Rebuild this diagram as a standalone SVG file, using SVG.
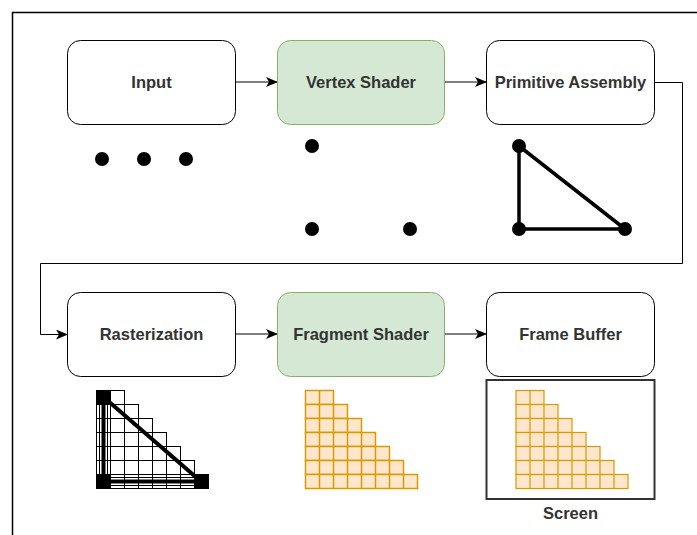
<svg xmlns="http://www.w3.org/2000/svg" xmlns:xlink="http://www.w3.org/1999/xlink" width="697" height="535" viewBox="0 0 697 535">
<style>
.node{fill:#ffffff;stroke:#000000;stroke-width:1;}
.green{fill:#d5e8d4;stroke:#82b366;stroke-width:1;}
.lbl{font-family:"Liberation Sans",Arial,sans-serif;font-weight:bold;font-size:16.5px;fill:#333333;text-anchor:middle;}
.conn{fill:none;stroke:#000000;stroke-width:1;}
.dot{fill:#000000;}
</style>
<defs>
<marker id="arr" viewBox="0 0 12 10" refX="11" refY="5" markerWidth="12" markerHeight="10" markerUnits="userSpaceOnUse" orient="auto">
<path d="M0,0 L12,5 L0,10 L3,5 z" fill="#000000"/>
</marker>
<g id="stair">
<rect x="0" y="0" width="28" height="14"/>
<rect x="0" y="14" width="42" height="14"/>
<rect x="0" y="28" width="56" height="14"/>
<rect x="0" y="42" width="70" height="14"/>
<rect x="0" y="56" width="84" height="14"/>
<rect x="0" y="70" width="98" height="14"/>
<rect x="0" y="84" width="112" height="14"/>
<path d="M14,0V98 M28,14V98 M42,28V98 M56,42V98 M70,56V98 M84,70V98 M98,84V98"/>
</g>
</defs>
<rect x="12.5" y="12.5" width="700" height="540" fill="#ffffff" stroke="#000000" stroke-width="1.5"/>
<g id="connectors">
<path class="conn" d="M235,82 H277" marker-end="url(#arr)"/>
<path class="conn" d="M445,82 H486" marker-end="url(#arr)"/>
<path class="conn" d="M654,82.5 H682.5 V263.5 H40.5 V334.5 H67" marker-end="url(#arr)"/>
<path class="conn" d="M235,334 H277" marker-end="url(#arr)"/>
<path class="conn" d="M445,334 H486" marker-end="url(#arr)"/>
</g>
<g id="input">
<rect class="node" x="67.5" y="40.5" width="168" height="84" rx="13"/>
<text class="lbl" x="151.5" y="88">Input</text>
</g>
<g id="vertex-shader">
<rect class="green" x="277.5" y="40.5" width="167" height="84" rx="13"/>
<text class="lbl" x="361" y="88">Vertex Shader</text>
</g>
<g id="primitive-assembly">
<rect class="node" x="486.5" y="40.5" width="168" height="84" rx="13"/>
<text class="lbl" x="570.5" y="88">Primitive Assembly</text>
</g>
<g id="rasterization">
<rect class="node" x="67.5" y="292.5" width="168" height="84" rx="13"/>
<text class="lbl" x="151.5" y="340">Rasterization</text>
</g>
<g id="fragment-shader">
<rect class="green" x="277.5" y="292.5" width="167" height="84" rx="13"/>
<text class="lbl" x="361" y="340">Fragment Shader</text>
</g>
<g id="frame-buffer">
<rect class="node" x="486.5" y="292.5" width="168" height="84" rx="13"/>
<text class="lbl" x="570.5" y="340">Frame Buffer</text>
</g>
<g id="input-dots">
<circle class="dot" cx="102" cy="159" r="7"/>
<circle class="dot" cx="144" cy="159" r="7"/>
<circle class="dot" cx="186" cy="159" r="7"/>
</g>
<g id="vertex-dots">
<circle class="dot" cx="312" cy="146" r="7"/>
<circle class="dot" cx="312" cy="229" r="7"/>
<circle class="dot" cx="410" cy="229" r="7"/>
</g>
<g id="triangle">
<path d="M519,146 L519,229 L625,229 Z" fill="none" stroke="#000000" stroke-width="3.5" stroke-linejoin="round"/>
<circle class="dot" cx="519" cy="146" r="7"/>
<circle class="dot" cx="519" cy="229" r="7"/>
<circle class="dot" cx="625" cy="229" r="7"/>
</g>
<g id="raster-grid">
<use xlink:href="#stair" x="96.5" y="390.5" fill="#ffffff" stroke="#000000" stroke-width="1"/>
<path d="M99.5,390 V488 M107.5,390 V488 M96,477.5 H208 M96,485.5 H208" fill="none" stroke="#000000" stroke-width="1"/>
<path d="M103.5,397 L103.5,481.5 L201,481.5 Z" fill="none" stroke="#000000" stroke-width="4" stroke-linejoin="round"/>
<rect x="96.5" y="390.5" width="14" height="14" fill="#000000"/>
<rect x="96.5" y="474.5" width="14" height="14" fill="#000000"/>
<rect x="194.5" y="474.5" width="14" height="14" fill="#000000"/>
</g>
<g id="fragment-grid">
<use xlink:href="#stair" x="305.5" y="390.5" fill="#ffe6cc" stroke="#d79b00" stroke-width="1.5"/>
</g>
<g id="screen">
<rect x="486.5" y="380" width="168" height="119" fill="#ffffff" stroke="#333333" stroke-width="2"/>
<use xlink:href="#stair" x="516" y="390.5" fill="#ffe6cc" stroke="#d79b00" stroke-width="1.2"/>
<text class="lbl" x="570.5" y="519">Screen</text>
</g>
</svg>
